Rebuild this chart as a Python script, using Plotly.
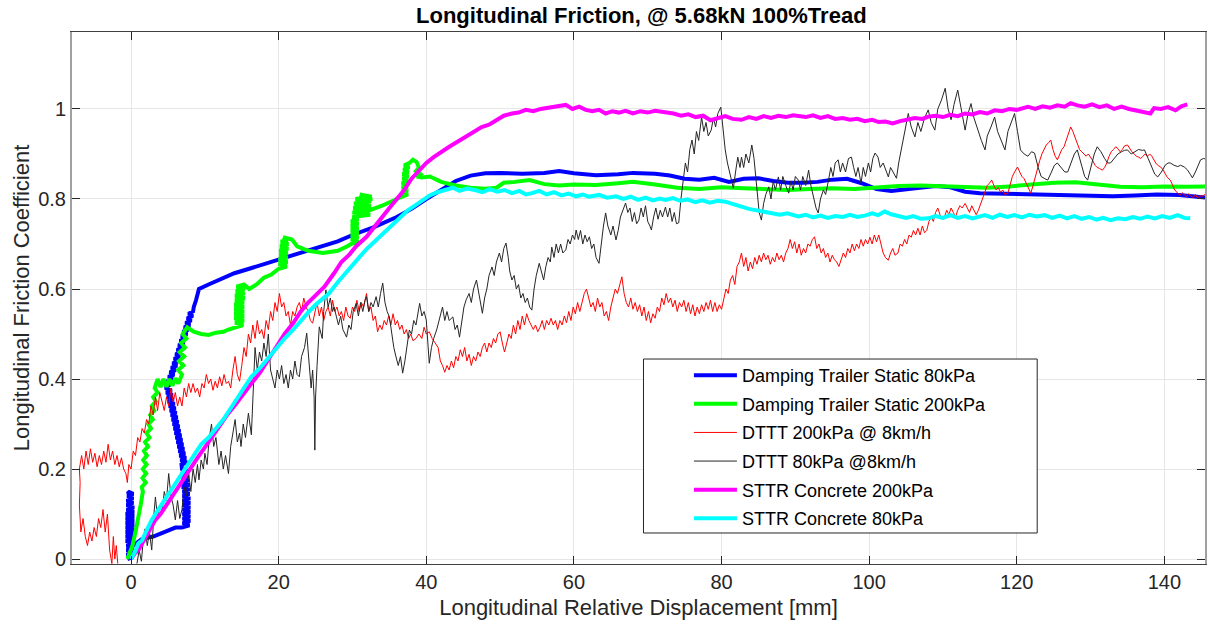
import plotly.graph_objects as go

# ---------------- data ----------------
blue_x = [-0.5, 0.3, -0.6, 0.3, -0.6, 0.3, -0.6, 0.4, -0.7, 0.4, -0.7, 0.4, -0.7, 0.4, -0.7, 0.4, -0.7, 0.4, -0.7, 0.4, -0.7, 0.4, -0.6, 0.4, -0.6, 0.3, -0.6, 0.3, -0.5, 0.3, -0.4,
          0.2, 0.0, 0.3, 1.5, 3.0, 4.5, 6.0,
          6.9, 7.9, 7.0, 8.0, 7.0, 8.0, 7.0, 8.0, 7.0, 8.0, 7.0, 8.0, 7.0, 8.0, 7.0, 7.9, 7.0, 7.9, 6.9, 7.9, 6.9, 7.8, 6.9, 7.8, 6.8, 7.7, 6.9,
          6.84, 7.57, 6.71, 7.44, 6.58, 7.31, 6.45, 7.18, 6.32, 7.05, 6.19, 6.92, 6.06, 6.79, 5.93, 6.66, 5.8, 6.54, 5.67, 6.41, 5.54, 6.28, 5.41, 6.15, 5.28, 6.02, 5.15, 5.89, 5.02, 5.76, 4.89, 5.63, 4.76, 5.5, 4.63,
          5.45, 4.85, 5.65, 5.04, 5.84, 5.24, 6.04, 5.43, 6.23, 5.63, 6.43, 5.82, 6.62, 6.02, 6.82, 6.21, 7.01, 6.41, 7.21, 6.6, 7.4, 6.8, 7.6, 6.99, 7.79, 7.19, 7.99, 7.38, 8.18, 7.58, 8.38, 7.77, 8.4,
          8.5, 8.8, 9.2, 10.5, 12, 14, 16, 18, 20, 22, 25, 28, 30, 33, 36, 38, 40, 42, 44, 46, 48, 50, 53, 56, 58, 60, 63, 66, 68, 71, 73, 75, 77, 79, 81, 83, 85, 87, 89, 91, 93, 95, 97, 99, 101, 103, 105, 107, 109, 111, 113, 115, 118, 121, 124, 127, 130, 133, 136, 139, 142, 145.8]
blue_y = [0.0, 0.005, 0.01, 0.015, 0.02, 0.025, 0.03, 0.035, 0.04, 0.045, 0.05, 0.055, 0.06, 0.065, 0.07, 0.075, 0.08, 0.085, 0.09, 0.095, 0.1, 0.105, 0.11, 0.115, 0.12, 0.125, 0.13, 0.135, 0.14, 0.145, 0.15,
          0.1, 0.05, 0.03, 0.045, 0.05, 0.06, 0.07,
          0.07, 0.075, 0.08, 0.085, 0.09, 0.095, 0.1, 0.105, 0.11, 0.115, 0.12, 0.125, 0.13, 0.135, 0.14, 0.145, 0.15, 0.155, 0.16, 0.165, 0.17, 0.175, 0.18, 0.185, 0.19, 0.195, 0.2,
          0.21, 0.215, 0.22, 0.225, 0.23, 0.235, 0.24, 0.245, 0.25, 0.255, 0.26, 0.265, 0.27, 0.275, 0.28, 0.285, 0.29, 0.295, 0.3, 0.305, 0.31, 0.315, 0.32, 0.325, 0.33, 0.335, 0.34, 0.345, 0.35, 0.355, 0.36, 0.365, 0.37, 0.375, 0.38,
          0.39, 0.395, 0.4, 0.405, 0.41, 0.415, 0.42, 0.425, 0.43, 0.435, 0.44, 0.445, 0.45, 0.455, 0.46, 0.465, 0.47, 0.475, 0.48, 0.485, 0.49, 0.495, 0.5, 0.505, 0.51, 0.515, 0.52, 0.525, 0.53, 0.535, 0.54, 0.545, 0.55,
          0.56, 0.575, 0.6, 0.61, 0.62, 0.635, 0.645, 0.655, 0.665, 0.675, 0.69, 0.706, 0.72, 0.738, 0.76, 0.778, 0.8, 0.82, 0.84, 0.852, 0.857, 0.858, 0.856, 0.858, 0.862, 0.857, 0.853, 0.855, 0.858, 0.856, 0.852, 0.845, 0.843, 0.847, 0.838, 0.845, 0.846, 0.84, 0.836, 0.836, 0.838, 0.843, 0.845, 0.835, 0.822, 0.818, 0.822, 0.826, 0.829, 0.826, 0.816, 0.813, 0.812, 0.811, 0.811, 0.809, 0.807, 0.806, 0.808, 0.81, 0.809, 0.803]

green_x = [-0.5, 0.2, 0.6, 1.0, 1.3, 1.6,
           1.45, 2.0, 1.55, 2.05, 1.6, 2.1, 1.65, 2.15, 1.75, 2.3, 1.9, 2.5, 2.1, 2.7, 2.35, 2.95, 2.6, 3.15, 2.8, 3.35, 3.0, 3.6, 3.2,
           3.6, 4.0, 4.4, 4.8, 5.2, 5.6, 6.0, 6.4,
           6.9, 6.4, 7.1, 6.5, 7.2, 6.6, 7.3, 6.8, 7.5, 7.0, 7.6, 8.5, 9.5, 10.5, 11.5, 12.5, 13.2,
           14.3, 15.2, 14.1, 15.3, 14.0, 15.3, 14.0, 15.3, 14.0, 15.3, 14.0, 15.3, 14.1, 15.4, 14.1, 15.4, 14.2, 15.4, 14.3, 15.3,
           16, 17, 18, 19,
           20.0, 21.1, 20.0, 21.2, 20.0, 21.2, 20.1, 21.2, 20.1, 21.3, 20.2, 21.3, 20.3, 21.2, 20.6,
           21.8, 22.5, 24, 26, 28, 29.3,
           29.8, 30.8, 29.8, 30.8, 29.8, 30.8, 29.8, 30.8, 29.8, 30.8, 29.8, 30.8,
           30.0, 32.4, 30.0, 32.4, 30.1, 32.5, 30.2, 32.5, 30.4, 32.6, 31.0,
           32.6, 31.5, 32.3, 31.2, 32, 34, 36,
           36.7, 37.5, 36.7, 37.5, 36.7, 37.5, 36.7, 37.5, 36.8, 37.6, 36.8, 37.6, 36.9, 37.7, 37.0, 37.7,
           38.2, 38.7, 39.0, 38.6, 39.2, 38.7, 39.4, 40.5, 42, 44, 46, 48, 49.5, 50.5, 52, 54, 56, 58, 60, 63, 66, 68, 71, 74, 77, 80, 83, 86, 89, 92, 95, 98, 101, 104, 107, 110, 113, 116, 119, 122, 125, 128, 131, 134, 137, 140, 143, 145.8]
green_y = [0.0, 0.03, 0.06, 0.09, 0.12, 0.15,
           0.16, 0.17, 0.18, 0.19, 0.2, 0.21, 0.22, 0.23, 0.24, 0.25, 0.26, 0.27, 0.28, 0.29, 0.3, 0.31, 0.32, 0.33, 0.34, 0.35, 0.36, 0.37, 0.38,
           0.4, 0.382, 0.4, 0.383, 0.4, 0.385, 0.402, 0.39,
           0.41, 0.42, 0.43, 0.44, 0.45, 0.46, 0.47, 0.48, 0.49, 0.5, 0.515, 0.505, 0.5, 0.498, 0.503, 0.505, 0.51,
           0.515, 0.52, 0.525, 0.53, 0.535, 0.54, 0.545, 0.55, 0.555, 0.56, 0.565, 0.57, 0.575, 0.58, 0.585, 0.59, 0.595, 0.6, 0.605, 0.61,
           0.6, 0.61, 0.625, 0.632,
           0.645, 0.65, 0.655, 0.66, 0.665, 0.67, 0.675, 0.68, 0.685, 0.69, 0.695, 0.7, 0.705, 0.71, 0.715,
           0.71, 0.695, 0.685, 0.68, 0.685, 0.695,
           0.7, 0.705, 0.71, 0.715, 0.72, 0.725, 0.73, 0.735, 0.74, 0.745, 0.75, 0.755,
           0.76, 0.765, 0.77, 0.775, 0.78, 0.785, 0.79, 0.795, 0.8, 0.805, 0.81,
           0.8, 0.79, 0.78, 0.775, 0.773, 0.785, 0.8,
           0.805, 0.81, 0.815, 0.82, 0.825, 0.83, 0.835, 0.84, 0.845, 0.85, 0.855, 0.86, 0.865, 0.87, 0.875, 0.88,
           0.887, 0.882, 0.87, 0.862, 0.855, 0.85, 0.848, 0.85, 0.838, 0.83, 0.825, 0.823, 0.825, 0.836, 0.838, 0.842, 0.833, 0.83, 0.832, 0.831, 0.835, 0.838, 0.832, 0.825, 0.822, 0.826, 0.824, 0.822, 0.82, 0.822, 0.824, 0.822, 0.826, 0.829, 0.83, 0.829, 0.826, 0.825, 0.828, 0.832, 0.836, 0.837, 0.832, 0.827, 0.826, 0.828, 0.827, 0.828]

red_x = [-1.8, -2.0, -2.2, -2.4, -2.6, -2.9, -3.2, -3.5, -3.8, -4.1, -4.4, -4.7, -5.0, -5.3, -5.6, -5.9, -6.2, -6.5, -6.8, -7.0, -6.9, -7.0, -6.7, -6.4, -6.1, -5.8, -5.5, -5.2, -4.9, -4.6, -4.3, -4.0, -3.7, -3.4, -3.1, -2.8, -2.5, -2.2, -1.9, -1.6, -1.3, -1.0, -0.7, -0.5, -0.3, 0.0, 0.3, 0.6, 0.9, 1.2, 1.5, 1.8, 2.1, 2.4, 2.7, 3.0, 3.3, 3.6, 3.9, 4.2, 4.5, 4.8, 5.1, 5.4, 5.7, 6.0, 6.3, 6.6, 6.9, 7.2, 7.5, 7.8, 8.1, 8.4, 8.7, 9.0, 9.3, 9.6, 9.9, 10.2, 10.5, 10.8, 11.1, 11.4, 11.7, 12.0, 12.3, 12.6, 12.9, 13.2, 13.5, 13.8, 14.1, 14.4, 14.7, 15.0, 15.3, 15.6, 15.9, 16.2, 16.5, 16.8, 17.1, 17.4, 17.7, 18.0, 18.3, 18.6, 18.9, 19.2, 19.5, 19.8, 20.1, 20.4, 20.7, 21.0, 21.3, 21.6, 21.9, 22.2, 22.5, 22.8, 23.1, 23.4, 23.7, 24.0, 24.3, 24.6, 24.9, 25.2, 25.5, 25.8, 26.1, 26.4, 26.7, 27.0, 27.3, 27.6, 27.9, 28.2, 28.5, 28.8, 29.1, 29.4, 29.7, 30.0, 30.3, 30.6, 30.9, 31.2, 31.5, 31.9, 32.2, 32.5, 32.8, 33.1, 33.4, 33.7, 34.0, 34.3, 34.6, 34.9, 35.2, 35.5, 35.8, 36.1, 36.4, 36.7, 37.0, 37.3, 37.6, 37.9, 38.2, 38.6, 39.0, 39.4, 39.7, 40.0, 40.4, 40.8, 41.2, 41.6, 41.9, 42.2, 42.5, 42.8, 43.1, 43.4, 43.7, 44.0, 44.3, 44.6, 44.9, 45.2, 45.5, 45.8, 46.1, 46.4, 46.7, 47.0, 47.3, 47.6, 47.9, 48.2, 48.5, 48.8, 49.1, 49.4, 49.7, 50.0, 50.3, 50.6, 50.9, 51.2, 51.5, 51.8, 52.1, 52.4, 52.7, 53.0, 53.3, 53.6, 53.9, 54.2, 54.5, 54.8, 55.1, 55.4, 55.7, 56.0, 56.3, 56.6, 56.9, 57.2, 57.5, 57.8, 58.1, 58.4, 58.7, 59.0, 59.3, 59.6, 59.9, 60.2, 60.5, 60.8, 61.1, 61.4, 61.7, 62.0, 62.3, 62.6, 62.9, 63.2, 63.5, 63.8, 64.1, 64.4, 64.7, 65.0, 65.3, 65.6, 65.9, 66.2, 66.5, 66.8, 67.1, 67.4, 67.7, 68.0, 68.3, 68.6, 68.9, 69.2, 69.5, 69.8, 70.1, 70.4, 70.7, 71.0, 71.3, 71.6, 71.9, 72.2, 72.5, 72.8, 73.1, 73.4, 73.7, 74.0, 74.3, 74.6, 74.9, 75.2, 75.5, 75.8, 76.1, 76.4, 76.7, 77.0, 77.3, 77.6, 77.9, 78.2, 78.5, 78.8, 79.1, 79.4, 79.7, 80.0, 80.3, 80.6, 80.9, 81.2, 81.5, 81.8, 82.1, 82.4, 82.7, 83.0, 83.3, 83.6, 83.9, 84.2, 84.5, 84.8, 85.1, 85.4, 85.7, 86.0, 86.3, 86.6, 86.9, 87.2, 87.5, 87.8, 88.1, 88.4, 88.7, 89.0, 89.3, 89.6, 89.9, 90.2, 90.5, 90.8, 91.1, 91.4, 91.7, 92.0, 92.3, 92.6, 92.9, 93.2, 93.5, 93.8, 94.1, 94.4, 94.7, 95.0, 95.3, 95.6, 95.9, 96.2, 96.5, 96.8, 97.1, 97.4, 97.7, 98.0, 98.3, 98.6, 98.9, 99.2, 99.5, 99.8, 100.1, 100.4, 100.7, 101.0, 101.3, 101.6, 101.9, 102.2, 102.6, 102.9, 103.2, 103.5, 103.9, 104.2, 104.5, 104.8, 105.1, 105.4, 105.7, 106.0, 106.3, 106.6, 106.9, 107.2, 107.5, 107.8, 108.1, 108.4, 108.7, 109.0, 109.3, 109.6, 109.9, 110.2, 110.5, 110.8, 111.1, 111.4, 111.7, 112.0, 112.3, 112.6, 113.0, 113.3, 113.6, 113.9, 114.2, 114.5, 114.8, 115.1, 115.4, 115.7, 116.0, 116.3, 116.6, 116.9, 117.2, 117.5, 117.8, 118.1, 118.4, 118.8, 119.1, 119.4, 119.7, 120.1, 120.4, 120.7, 121.0, 121.3, 121.6, 121.9, 122.2, 122.5, 122.8, 123.1, 123.4, 123.7, 124.0, 124.3, 124.6, 124.9, 125.2, 125.5, 125.8, 126.1, 126.4, 126.7, 127.0, 127.3, 127.6, 127.9, 128.2, 128.5, 128.8, 129.1, 129.4, 129.7, 130.0, 130.3, 130.6, 130.9, 131.2, 131.6, 131.9, 132.2, 132.5, 132.8, 133.1, 133.4, 133.7, 134.0, 134.3, 134.6, 135.0, 135.3, 135.6, 135.9, 136.2, 136.5, 136.8, 137.1, 137.4, 137.7, 138.0, 138.3, 138.6, 138.9, 139.2, 139.5, 139.8, 140.1, 140.4, 140.8, 141.1, 141.4, 141.8, 142.1, 142.4, 142.7, 143.0, 143.3, 143.6, 143.9, 144.2, 144.5, 144.8, 145.1, 145.5, 145.8]
red_y = [-0.01, 0.03, 0.0, 0.05, -0.01, 0.02, 0.1, 0.06, 0.11, 0.07, 0.09, 0.05, 0.07, 0.04, 0.06, 0.03, 0.05, 0.09, 0.06, 0.12, 0.17, 0.2, 0.23, 0.2, 0.24, 0.21, 0.245, 0.215, 0.235, 0.205, 0.23, 0.21, 0.24, 0.215, 0.255, 0.22, 0.24, 0.21, 0.23, 0.205, 0.225, 0.2, 0.19, 0.17, 0.21, 0.2, 0.24, 0.23, 0.27, 0.26, 0.29, 0.28, 0.31, 0.3, 0.34, 0.32, 0.36, 0.33, 0.37, 0.35, 0.33, 0.36, 0.34, 0.38, 0.35, 0.37, 0.34, 0.36, 0.34, 0.38, 0.36, 0.39, 0.37, 0.39, 0.37, 0.38, 0.36, 0.39, 0.38, 0.41, 0.39, 0.4, 0.375, 0.395, 0.38, 0.405, 0.385, 0.41, 0.39, 0.395, 0.38, 0.42, 0.45, 0.41, 0.395, 0.43, 0.47, 0.45, 0.5, 0.48, 0.52, 0.49, 0.53, 0.5, 0.51, 0.49, 0.53, 0.51, 0.55, 0.53, 0.57, 0.55, 0.59, 0.56, 0.57, 0.54, 0.55, 0.52, 0.55, 0.54, 0.56, 0.57, 0.55, 0.58, 0.56, 0.55, 0.53, 0.524, 0.55, 0.57, 0.54, 0.56, 0.53, 0.55, 0.56, 0.54, 0.575, 0.55, 0.56, 0.54, 0.55, 0.53, 0.56, 0.54, 0.535, 0.56, 0.55, 0.575, 0.55, 0.57, 0.56, 0.59, 0.55, 0.56, 0.53, 0.54, 0.505, 0.52, 0.51, 0.53, 0.52, 0.54, 0.52, 0.545, 0.52, 0.53, 0.51, 0.52, 0.5, 0.51, 0.49, 0.5, 0.485, 0.49, 0.5, 0.49, 0.515, 0.5, 0.505, 0.49, 0.48, 0.47, 0.44, 0.43, 0.415, 0.43, 0.42, 0.44, 0.425, 0.45, 0.44, 0.465, 0.45, 0.47, 0.44, 0.455, 0.43, 0.45, 0.44, 0.46, 0.45, 0.47, 0.48, 0.46, 0.48, 0.47, 0.49, 0.48, 0.5, 0.505, 0.48, 0.46, 0.48, 0.5, 0.49, 0.52, 0.5, 0.53, 0.51, 0.54, 0.52, 0.545, 0.53, 0.52, 0.51, 0.52, 0.505, 0.515, 0.53, 0.51, 0.53, 0.52, 0.535, 0.52, 0.53, 0.51, 0.53, 0.52, 0.54, 0.525, 0.55, 0.53, 0.56, 0.545, 0.57, 0.55, 0.57, 0.59, 0.6, 0.58, 0.56, 0.57, 0.55, 0.58, 0.56, 0.57, 0.54, 0.55, 0.53, 0.56, 0.58, 0.6, 0.59, 0.61, 0.627, 0.59, 0.57, 0.56, 0.58, 0.555, 0.57, 0.55, 0.565, 0.54, 0.56, 0.53, 0.55, 0.525, 0.545, 0.535, 0.56, 0.55, 0.58, 0.565, 0.59, 0.57, 0.58, 0.56, 0.575, 0.55, 0.57, 0.56, 0.575, 0.55, 0.57, 0.545, 0.565, 0.54, 0.56, 0.545, 0.565, 0.55, 0.57, 0.555, 0.575, 0.55, 0.57, 0.55, 0.565, 0.555, 0.58, 0.6, 0.59, 0.62, 0.63, 0.61, 0.65, 0.66, 0.68, 0.65, 0.67, 0.64, 0.66, 0.645, 0.67, 0.655, 0.675, 0.66, 0.68, 0.665, 0.675, 0.655, 0.67, 0.66, 0.68, 0.665, 0.675, 0.66, 0.68, 0.69, 0.71, 0.69, 0.705, 0.68, 0.7, 0.675, 0.69, 0.68, 0.7, 0.695, 0.71, 0.716, 0.69, 0.7, 0.68, 0.69, 0.67, 0.68, 0.66, 0.675, 0.665, 0.66, 0.65, 0.665, 0.68, 0.67, 0.69, 0.68, 0.7, 0.685, 0.7, 0.69, 0.71, 0.695, 0.71, 0.7, 0.715, 0.7, 0.72, 0.705, 0.72, 0.7, 0.68, 0.67, 0.664, 0.68, 0.69, 0.675, 0.68, 0.7, 0.695, 0.71, 0.7, 0.72, 0.715, 0.73, 0.72, 0.735, 0.72, 0.74, 0.725, 0.73, 0.75, 0.76, 0.75, 0.77, 0.78, 0.765, 0.755, 0.76, 0.775, 0.765, 0.78, 0.77, 0.76, 0.775, 0.785, 0.78, 0.79, 0.78, 0.77, 0.785, 0.775, 0.765, 0.775, 0.79, 0.8, 0.82, 0.83, 0.835, 0.842, 0.83, 0.82, 0.825, 0.815, 0.82, 0.81, 0.813, 0.83, 0.85, 0.86, 0.871, 0.86, 0.85, 0.845, 0.835, 0.825, 0.813, 0.83, 0.85, 0.87, 0.885, 0.9, 0.91, 0.92, 0.925, 0.931, 0.91, 0.895, 0.887, 0.9, 0.91, 0.916, 0.93, 0.945, 0.96, 0.95, 0.935, 0.924, 0.91, 0.905, 0.9, 0.895, 0.9, 0.893, 0.885, 0.875, 0.87, 0.868, 0.864, 0.87, 0.88, 0.895, 0.905, 0.91, 0.916, 0.912, 0.905, 0.91, 0.918, 0.92, 0.912, 0.905, 0.9, 0.895, 0.893, 0.89, 0.895, 0.9, 0.895, 0.9, 0.895, 0.885, 0.878, 0.874, 0.871, 0.865, 0.855, 0.848, 0.842, 0.83, 0.82, 0.813, 0.808, 0.814, 0.809, 0.805, 0.812, 0.806, 0.803, 0.81, 0.802, 0.807, 0.806, 0.811, 0.813]

black_x = [0.8, 1.1, 1.4, 1.7, 1.9, 2.2, 2.5, 2.8, 3.1, 3.3, 3.6, 3.9, 4.2, 4.5, 4.8, 5.1, 5.4, 5.7, 6.0, 6.3, 6.6, 6.9, 7.2, 7.5, 7.8, 8.1, 8.4, 8.7, 9.0, 9.2, 9.5, 9.8, 10.0, 10.3, 10.6, 10.9, 11.2, 11.5, 11.9, 12.2, 12.5, 12.8, 13.2, 13.5, 13.8, 14.1, 14.4, 14.7, 14.9, 15.2, 15.5, 15.9, 16.3, 16.6, 16.8, 17.1, 17.4, 17.7, 18.0, 18.3, 18.6, 18.9, 19.2, 19.5, 19.8, 20.1, 20.4, 20.7, 21.0, 21.3, 21.6, 21.9, 22.2, 22.5, 22.8, 23.1, 23.5, 23.8, 24.1, 24.4, 24.6, 24.8, 24.9, 25.0, 25.2, 25.5, 25.9, 26.1, 26.4, 26.7, 27.0, 27.3, 27.5, 27.8, 28.1, 28.4, 28.7, 29.0, 29.2, 29.5, 29.8, 30.1, 30.5, 30.8, 31.1, 31.4, 31.7, 31.9, 32.2, 32.5, 32.8, 33.2, 33.5, 33.8, 34.1, 34.4, 34.7, 35.0, 35.3, 35.6, 35.9, 36.2, 36.5, 36.8, 37.1, 37.4, 37.7, 38.0, 38.3, 38.6, 39.1, 39.4, 39.7, 40.0, 40.2, 40.4, 40.7, 41.0, 41.4, 41.7, 42.0, 42.2, 42.5, 42.8, 43.1, 43.6, 43.9, 44.2, 44.5, 44.8, 45.1, 45.4, 45.8, 46.1, 46.4, 46.8, 47.1, 47.4, 47.6, 47.9, 48.2, 48.5, 48.9, 49.2, 49.5, 49.9, 50.2, 50.5, 50.8, 51.1, 51.3, 51.6, 51.9, 52.2, 52.5, 52.8, 53.1, 53.4, 53.7, 54.0, 54.3, 54.6, 54.9, 55.3, 55.6, 55.9, 56.2, 56.5, 56.8, 57.0, 57.3, 57.6, 57.9, 58.2, 58.5, 58.9, 59.2, 59.5, 59.8, 60.1, 60.3, 60.6, 60.9, 61.2, 61.5, 61.8, 62.1, 62.4, 62.7, 63.0, 63.4, 63.7, 64.0, 64.3, 64.6, 65.0, 65.3, 65.7, 66.0, 66.3, 66.7, 67.0, 67.3, 67.6, 67.9, 68.2, 68.5, 68.8, 69.1, 69.4, 69.7, 70.0, 70.3, 70.5, 70.8, 71.1, 71.4, 71.7, 72.0, 72.4, 72.7, 73.0, 73.3, 73.6, 73.9, 74.2, 74.5, 74.8, 75.1, 75.4, 75.7, 76.0, 76.3, 76.6, 76.9, 77.3, 77.6, 77.9, 78.2, 78.6, 78.9, 79.2, 79.5, 79.9, 80.2, 80.5, 80.8, 81.1, 81.4, 81.6, 81.9, 82.2, 82.5, 82.7, 83.0, 83.3, 83.7, 84.1, 84.4, 84.6, 84.9, 85.1, 85.4, 85.7, 86.0, 86.4, 86.7, 87.0, 87.3, 87.7, 88.0, 88.3, 88.7, 89.1, 89.4, 89.7, 90.0, 90.4, 90.7, 91.0, 91.4, 91.8, 92.1, 92.5, 92.8, 93.1, 93.4, 93.8, 94.1, 94.5, 94.8, 95.1, 95.4, 95.8, 96.1, 96.4, 96.8, 97.2, 97.6, 97.9, 98.2, 98.5, 98.9, 99.2, 99.5, 99.9, 100.2, 100.5, 100.8, 101.2, 101.5, 101.9, 102.3, 102.6, 102.9, 103.2, 103.7, 104.0, 104.4, 104.8, 105.3, 105.7, 106.2, 106.6, 107.0, 107.5, 108.0, 108.4, 108.9, 109.3, 109.8, 110.3, 110.7, 111.1, 111.5, 112.0, 112.5, 113.0, 113.4, 113.8, 114.2, 114.7, 115.2, 115.7, 116.0, 116.5, 117.0, 117.4, 117.9, 118.4, 118.8, 119.2, 119.7, 120.1, 120.5, 121.0, 121.5, 122.0, 122.4, 122.9, 123.3, 123.8, 124.2, 124.7, 125.1, 125.5, 126.0, 126.5, 126.9, 127.4, 127.8, 128.2, 128.7, 129.2, 129.6, 130.0, 130.5, 130.9, 131.4, 131.9, 132.3, 132.7, 133.2, 133.7, 134.2, 134.6, 135.0, 135.5, 136.0, 136.5, 137.0, 137.3, 137.8, 138.3, 138.7, 139.1, 139.6, 140.1, 140.5, 140.8, 141.3, 141.8, 142.2, 142.7, 143.1, 143.5, 143.8, 144.2, 144.6, 144.9, 145.3, 145.8]
black_y = [-0.01, 0.02, -0.005, 0.05, 0.067, 0.03, 0.06, 0.02, 0.1, 0.138, 0.09, 0.12, 0.104, 0.15, 0.13, 0.19, 0.14, 0.12, 0.087, 0.13, 0.09, 0.11, 0.16, 0.14, 0.19, 0.15, 0.2, 0.17, 0.21, 0.176, 0.22, 0.2, 0.235, 0.21, 0.27, 0.3, 0.25, 0.27, 0.21, 0.24, 0.2, 0.23, 0.19, 0.25, 0.28, 0.31, 0.26, 0.28, 0.25, 0.3, 0.27, 0.324, 0.276, 0.38, 0.47, 0.42, 0.46, 0.44, 0.48, 0.45, 0.5, 0.42, 0.4, 0.38, 0.42, 0.4, 0.43, 0.39, 0.41, 0.38, 0.42, 0.4, 0.44, 0.41, 0.405, 0.45, 0.47, 0.502, 0.44, 0.38, 0.42, 0.36, 0.242, 0.36, 0.43, 0.516, 0.49, 0.55, 0.598, 0.56, 0.58, 0.55, 0.56, 0.538, 0.52, 0.54, 0.51, 0.5, 0.493, 0.52, 0.51, 0.55, 0.568, 0.54, 0.57, 0.55, 0.575, 0.583, 0.55, 0.57, 0.56, 0.583, 0.56, 0.59, 0.613, 0.57, 0.55, 0.538, 0.5, 0.47, 0.449, 0.43, 0.45, 0.413, 0.44, 0.48, 0.509, 0.5, 0.53, 0.52, 0.568, 0.54, 0.55, 0.531, 0.48, 0.435, 0.47, 0.49, 0.509, 0.53, 0.55, 0.56, 0.53, 0.55, 0.53, 0.538, 0.51, 0.52, 0.493, 0.53, 0.56, 0.576, 0.59, 0.57, 0.6, 0.62, 0.59, 0.56, 0.546, 0.58, 0.6, 0.63, 0.649, 0.63, 0.66, 0.68, 0.66, 0.69, 0.702, 0.67, 0.64, 0.62, 0.63, 0.6, 0.61, 0.58, 0.59, 0.57, 0.58, 0.56, 0.553, 0.6, 0.63, 0.657, 0.64, 0.62, 0.65, 0.67, 0.66, 0.693, 0.67, 0.7, 0.68, 0.7, 0.68, 0.687, 0.71, 0.7, 0.72, 0.71, 0.731, 0.71, 0.73, 0.7, 0.72, 0.705, 0.716, 0.69, 0.7, 0.67, 0.657, 0.7, 0.74, 0.769, 0.74, 0.72, 0.74, 0.709, 0.73, 0.76, 0.78, 0.791, 0.77, 0.78, 0.75, 0.77, 0.745, 0.753, 0.78, 0.76, 0.785, 0.75, 0.74, 0.731, 0.76, 0.78, 0.755, 0.775, 0.76, 0.782, 0.76, 0.78, 0.75, 0.77, 0.745, 0.747, 0.8, 0.84, 0.88, 0.86, 0.91, 0.931, 0.9, 0.95, 0.93, 0.982, 0.95, 0.97, 0.94, 0.953, 0.98, 0.96, 0.99, 1.004, 0.95, 0.909, 0.88, 0.86, 0.84, 0.824, 0.86, 0.893, 0.87, 0.893, 0.87, 0.9, 0.88, 0.92, 0.89, 0.858, 0.8, 0.77, 0.753, 0.79, 0.81, 0.827, 0.8, 0.84, 0.82, 0.849, 0.82, 0.85, 0.83, 0.813, 0.84, 0.82, 0.85, 0.842, 0.82, 0.85, 0.83, 0.864, 0.83, 0.8, 0.78, 0.769, 0.8, 0.82, 0.81, 0.842, 0.87, 0.85, 0.88, 0.887, 0.86, 0.88, 0.86, 0.89, 0.893, 0.87, 0.85, 0.87, 0.835, 0.87, 0.85, 0.88, 0.86, 0.89, 0.902, 0.893, 0.87, 0.88, 0.86, 0.849, 0.87, 0.86, 0.846, 0.88, 0.916, 0.95, 0.99, 0.96, 0.938, 0.97, 0.95, 0.98, 0.998, 0.97, 0.953, 1.0, 1.02, 1.046, 1.0, 0.976, 1.01, 1.042, 1.0, 0.953, 0.99, 1.012, 0.98, 0.953, 0.93, 0.909, 0.94, 0.96, 0.982, 0.95, 0.93, 0.909, 0.95, 0.97, 0.99, 0.95, 0.909, 0.9, 0.895, 0.905, 0.902, 0.87, 0.85, 0.845, 0.842, 0.86, 0.875, 0.88, 0.87, 0.86, 0.86, 0.885, 0.9, 0.909, 0.88, 0.85, 0.842, 0.87, 0.9, 0.916, 0.905, 0.89, 0.88, 0.88, 0.89, 0.9, 0.905, 0.908, 0.909, 0.9, 0.905, 0.91, 0.908, 0.909, 0.89, 0.87, 0.855, 0.849, 0.86, 0.875, 0.88, 0.88, 0.875, 0.872, 0.875, 0.871, 0.865, 0.855, 0.847, 0.86, 0.878, 0.887, 0.89, 0.888]

magenta_x = [0, 0.5, 1, 1.5, 2, 2.5, 3.3, 4, 5, 6, 6.9, 8, 9, 10, 10.9, 12, 13, 14, 15, 16.3, 17.5, 18.5, 19.7, 20.8, 22, 23, 24, 25.2, 26.2, 27.5, 28.5, 29.5, 30.5, 31.9, 33, 34, 35, 36, 37, 38, 39, 40, 41, 42, 43, 44, 45.4, 46.5, 47.5, 48.5, 49.5, 50.5, 51.6, 52.5, 53.5, 54.5, 55.5, 56.5, 57.5, 58.9, 59.8, 60.7, 61.6, 62.5, 63.4, 64.3, 65.2, 66.1, 67, 68, 69, 70, 71, 72.4, 73.5, 74.5, 75.5, 76.5, 77.5, 78.5, 79.5, 80.5, 81.5, 82.7, 83.7, 84.7, 85.7, 86.7, 87.7, 88.7, 89.7, 90.4, 91.4, 92.4, 93.4, 94.4, 95.4, 96.4, 97.4, 98.4, 99.4, 100.4, 101.3, 102.2, 103.2, 104.2, 105.2, 106.2, 107.2, 108, 109, 110, 111, 112, 113, 114, 115, 116, 117, 118, 119, 120, 121.5, 122.5, 123.5, 124.5, 125.5, 126.5, 127.3, 128.2, 129.2, 130.2, 131.2, 132.2, 133.2, 134.2, 135.2, 136.2, 137.2, 138.1, 138.6, 139.5, 140.5, 141.5, 142.3, 143.1]
magenta_y = [0, 0.012, 0.02, 0.035, 0.05, 0.062, 0.087, 0.1, 0.125, 0.15, 0.176, 0.2, 0.225, 0.248, 0.27, 0.295, 0.32, 0.34, 0.363, 0.39, 0.415, 0.44, 0.47, 0.5, 0.525, 0.55, 0.57, 0.59, 0.605, 0.635, 0.66, 0.675, 0.695, 0.716, 0.74, 0.76, 0.78, 0.8, 0.82, 0.845, 0.862, 0.88, 0.893, 0.905, 0.915, 0.925, 0.938, 0.95, 0.96, 0.965, 0.975, 0.985, 0.99, 0.992, 0.998, 0.995, 1.0, 1.003, 1.005, 1.009, 1.0, 1.005, 0.998, 0.995, 0.998, 0.99, 0.995, 0.992, 0.996, 0.99, 0.995, 0.992, 0.996, 0.993, 0.99, 0.985, 0.988, 0.982, 0.985, 0.975, 0.98, 0.984, 0.978, 0.976, 0.982, 0.978, 0.984, 0.98, 0.985, 0.982, 0.986, 0.985, 0.982, 0.986, 0.98, 0.984, 0.978, 0.98, 0.976, 0.978, 0.973, 0.976, 0.971, 0.972, 0.968, 0.973, 0.976, 0.98, 0.978, 0.983, 0.985, 0.982, 0.987, 0.984, 0.99, 0.988, 0.993, 0.99, 0.997, 0.995, 1.0, 0.998, 1.005, 1.0, 1.006, 1.003, 1.008, 1.005, 1.013, 1.008, 1.005, 1.01, 1.004, 1.008, 1.0, 1.005, 1.0, 0.997, 0.992, 0.99, 1.002, 1.0, 1.004, 0.997, 1.006, 1.01]

cyan_x = [0, 0.5, 1, 1.5, 2, 2.8, 3.5, 4.5, 5.5, 6.9, 7.8, 8.6, 9.5, 10.5, 11.4, 12.5, 13.5, 14.5, 15.5, 16.3, 17.5, 18.5, 19.7, 20.8, 22, 23, 24, 25, 26, 26.8, 28, 29, 30, 31, 32, 33.2, 34.5, 35.5, 36.5, 37.5, 38.6, 39.5, 40.5, 41.5, 42.7, 43.6, 44.5, 45.5, 46.6, 47.6, 48.6, 49.6, 50.6, 51.6, 52.6, 53.5, 54.3, 55.3, 56.3, 57.3, 58.3, 59.3, 60.3, 61.2, 62, 63.4, 64.5, 65.7, 66.7, 67.7, 68.7, 69.7, 70.7, 71.6, 72.4, 73.4, 74.4, 75.4, 76.4, 77.4, 78.4, 79.5, 80.5, 81.5, 82.7, 83.7, 84.8, 85.9, 86.9, 87.9, 88.9, 89.9, 90.4, 91.4, 92.4, 93.4, 94.4, 95.4, 96.4, 97.4, 98.4, 99.4, 100.4, 101.2, 102.1, 103, 104, 105, 106, 107, 108, 109, 110, 111, 112, 113, 114, 114.7, 115.7, 116.7, 117.7, 118.7, 119.7, 120.7, 121.7, 122.7, 123.8, 124.8, 125.8, 126.8, 127.8, 128.8, 129.8, 130.8, 131.7, 132.7, 133.7, 134.7, 135.7, 136.7, 137.7, 138.7, 139.7, 140.7, 141.8, 142.7, 143.5]
cyan_y = [0, 0.015, 0.035, 0.042, 0.06, 0.087, 0.105, 0.13, 0.155, 0.19, 0.212, 0.235, 0.255, 0.27, 0.287, 0.31, 0.335, 0.36, 0.385, 0.405, 0.425, 0.445, 0.468, 0.49, 0.51, 0.53, 0.548, 0.565, 0.578, 0.59, 0.615, 0.635, 0.655, 0.672, 0.69, 0.709, 0.73, 0.745, 0.76, 0.775, 0.787, 0.798, 0.808, 0.815, 0.82, 0.825, 0.818, 0.823, 0.82, 0.815, 0.822, 0.816, 0.82, 0.813, 0.818, 0.81, 0.813, 0.818, 0.81, 0.815, 0.808, 0.812, 0.806, 0.81, 0.805, 0.809, 0.803, 0.806, 0.8, 0.805, 0.798, 0.803, 0.797, 0.801, 0.798, 0.802, 0.796, 0.799, 0.793, 0.797, 0.792, 0.796, 0.794, 0.788, 0.783, 0.778, 0.774, 0.772, 0.768, 0.765, 0.768, 0.762, 0.761, 0.765, 0.759, 0.763, 0.758, 0.762, 0.76, 0.765, 0.76, 0.763, 0.768, 0.764, 0.772, 0.766, 0.762, 0.758, 0.762, 0.756, 0.757, 0.762, 0.758, 0.764, 0.758, 0.762, 0.757, 0.76, 0.764, 0.758, 0.765, 0.76, 0.764, 0.759, 0.765, 0.761, 0.764, 0.758, 0.763, 0.757, 0.762, 0.756, 0.76, 0.754, 0.758, 0.753, 0.757, 0.755, 0.76, 0.756, 0.761, 0.757, 0.762, 0.758, 0.764, 0.758, 0.757]

series_names = ["Damping Trailer Static 80kPa", "Damping Trailer Static 200kPa",
                "DTTT 200kPa @ 8km/h", "DTTT 80kPa @8km/h",
                "STTR Concrete 200kPa", "STTR Concrete 80kPa"]
x_ticks = [0, 20, 40, 60, 80, 100, 120, 140]
y_ticks = [0, 0.2, 0.4, 0.6, 0.8, 1]
y_tick_labels = ["0", "0.2", "0.4", "0.6", "0.8", "1"]

# ---------------- figure ----------------
series = [
    (blue_x, blue_y, "#0000FF", 4),
    (green_x, green_y, "#00FF00", 4),
    (red_x, red_y, "#FF0000", 1),
    (black_x, black_y, "#262626", 1),
    (magenta_x, magenta_y, "#FF00FF", 4),
    (cyan_x, cyan_y, "#00FFFF", 4),
]

FONT = "Liberation Sans, Arial, Helvetica, sans-serif"
fig = go.Figure()
for i, ((xs, ys, col, w), name) in enumerate(zip(series, series_names)):
    fig.add_trace(go.Scatter(x=xs, y=ys, mode="lines", name=name,
                             legendgroup="g%d" % i,
                             line=dict(color=col, width=w)))

# legend box (white with black border)
fig.add_shape(type="rect", xref="paper", yref="paper",
              x0=0.5044, x1=0.8519, y0=0.0583, y1=0.3853,
              fillcolor="white", line=dict(color="#262626", width=1), layer="above")

fig.update_layout(
    width=1210, height=628,
    margin=dict(l=72, r=3, t=32, b=64),
    paper_bgcolor="white", plot_bgcolor="white",
    font=dict(family=FONT, color="#262626"),
    title=dict(text="<b>Longitudinal Friction, @ 5.68kN 100%Tread</b>",
               x=0.530, xanchor="center", y=0.975, yanchor="middle",
               font=dict(size=22, color="#000000", family=FONT)),
    showlegend=True,
    legend=dict(x=0.5445, y=0.389, xanchor="left", yanchor="top",
                bgcolor="rgba(0,0,0,0)", borderwidth=0,
                font=dict(size=18, color="#000000", family=FONT),
                tracegroupgap=2.2, itemwidth=43),
    xaxis=dict(range=[-8, 145.5], tickmode="array", tickvals=x_ticks,
               ticks="inside", ticklen=8, tickcolor="#262626",
               showline=True, linecolor="#404040", linewidth=1, mirror="ticks",
               showgrid=True, gridcolor="#e6e6e6", gridwidth=1, zeroline=False,
               tickfont=dict(size=20, color="#262626"),
               title=dict(text="Longitudinal Relative Displacement [mm]",
                          font=dict(size=22, color="#262626"), standoff=7)),
    yaxis=dict(range=[-0.011, 1.171], tickmode="array", tickvals=y_ticks,
               ticktext=y_tick_labels,
               ticks="inside", ticklen=8, tickcolor="#262626",
               showline=True, linecolor="#a0a0a0", linewidth=2, mirror="ticks",
               showgrid=True, gridcolor="#e6e6e6", gridwidth=1, zeroline=False,
               tickfont=dict(size=20, color="#262626"),
               title=dict(text="Longitudinal Friction Coefficient",
                          font=dict(size=22, color="#262626"), standoff=2)),
)

fig.write_html("out.html")
